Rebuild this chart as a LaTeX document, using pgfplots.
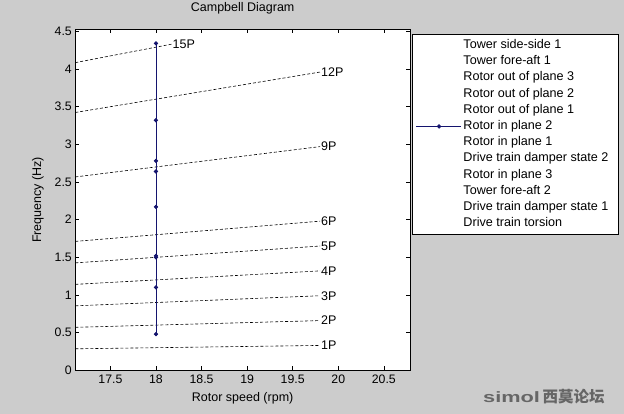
\documentclass[border=0pt]{standalone}
\usepackage{pgfplots}
\pgfplotsset{compat=1.18}
\usepackage{fontspec}
\setmainfont{Liberation Sans}
\newfontfamily\cjk{Noto Sans CJK SC}
\definecolor{figgray}{RGB}{204,204,204}
\definecolor{navyline}{RGB}{20,20,110}
\begin{document}
\begin{tikzpicture}
\fill[figgray, use as bounding box] (0,0) rectangle (624pt,414pt);
\begin{axis}[
  at={(75.3pt,43.7pt)}, anchor=south west,
  scale only axis, width=334.7pt, height=340.8pt,
  xmin=17.115, xmax=20.787, ymin=0, ymax=4.525,
  xtick={17.5,18,18.5,19,19.5,20,20.5},
  ytick={0,0.5,1,1.5,2,2.5,3,3.5,4,4.5},
  tick align=inside, major tick length=4pt,
  axis background/.style={fill=white},
  axis line style={line width=0.7pt},
  tick style={line width=0.6pt, black},
  every tick label/.append style={font=\fontsize{12.3}{14}\selectfont},
  /pgf/number format/assume math mode=true,
  /pgf/number format/fixed,
  xticklabel style={yshift=-1.5pt},
  title={Campbell Diagram},
  title style={at={(axis description cs:0.5,1.0455)}, anchor=center, font=\fontsize{12.5}{14}\selectfont},
  xlabel={Rotor speed (rpm)},
  xlabel style={at={(axis description cs:0.5,-0.0822)}, anchor=center, font=\fontsize{12.5}{14}\selectfont},
  ylabel={Frequency (Hz)},
  ylabel style={at={(axis description cs:-0.1114,0.5)}, anchor=center, font=\fontsize{12.5}{14}\selectfont},
  legend image code/.code={\path (-3pt,0pt) -- (42pt,0pt); \draw[mark repeat=2,mark phase=2,#1] plot coordinates {(0pt,0pt) (20pt,0pt) (40pt,0pt)};},
  legend cell align=left,
  legend style={at={(axis description cs:1.0069,0.9868)}, anchor=north west,
    draw=black, line width=0.7pt, fill=white,
    font=\fontsize{12.6}{14}\selectfont,
    inner xsep=3pt, inner ysep=3pt, row sep=0pt,
    nodes={text height=9.2pt, text depth=3pt, inner ysep=2pt, inner xsep=2pt}},
]
% nP excitation lines
\addplot[forget plot, black, line width=0.6pt, dash pattern=on 3pt off 2pt] coordinates {(17.115,0.28525) (19.8,0.330)};
\addplot[forget plot, black, line width=0.6pt, dash pattern=on 3pt off 2pt] coordinates {(17.115,0.5705) (19.8,0.660)};
\addplot[forget plot, black, line width=0.6pt, dash pattern=on 3pt off 2pt] coordinates {(17.115,0.85575) (19.8,0.990)};
\addplot[forget plot, black, line width=0.6pt, dash pattern=on 3pt off 2pt] coordinates {(17.115,1.1410) (19.8,1.320)};
\addplot[forget plot, black, line width=0.6pt, dash pattern=on 3pt off 2pt] coordinates {(17.115,1.42625) (19.8,1.650)};
\addplot[forget plot, black, line width=0.6pt, dash pattern=on 3pt off 2pt] coordinates {(17.115,1.7115) (19.8,1.980)};
\addplot[forget plot, black, line width=0.6pt, dash pattern=on 3pt off 2pt] coordinates {(17.115,2.56725) (19.8,2.970)};
\addplot[forget plot, black, line width=0.6pt, dash pattern=on 3pt off 2pt] coordinates {(17.115,3.423) (19.8,3.960)};
\addplot[forget plot, black, line width=0.6pt, dash pattern=on 3pt off 2pt] coordinates {(17.115,4.085) (18.17,4.33)};
% mode frequencies at 18 rpm
\addplot[forget plot, navyline, line width=0.8pt, mark=*, mark size=1.7pt] coordinates {
 (18,0.48) (18,1.10) (18,1.50) (18,1.52) (18,2.17) (18,2.64) (18,2.78) (18,3.32) (18,4.34)};
% labels
\begin{scope}[every node/.style={anchor=west, inner sep=1pt, font=\fontsize{12.5}{14}\selectfont}]
\node at (axis cs:19.8,0.330) {1P};
\node at (axis cs:19.8,0.660) {2P};
\node at (axis cs:19.8,0.990) {3P};
\node at (axis cs:19.8,1.320) {4P};
\node at (axis cs:19.8,1.650) {5P};
\node at (axis cs:19.8,1.980) {6P};
\node at (axis cs:19.8,2.970) {9P};
\node at (axis cs:19.8,3.960) {12P};
\node at (axis cs:18.17,4.33) {15P};
\end{scope}
% legend
\addlegendimage{empty legend}\addlegendentry{Tower side-side 1}
\addlegendimage{empty legend}\addlegendentry{Tower fore-aft 1}
\addlegendimage{empty legend}\addlegendentry{Rotor out of plane 3}
\addlegendimage{empty legend}\addlegendentry{Rotor out of plane 2}
\addlegendimage{empty legend}\addlegendentry{Rotor out of plane 1}
\addlegendimage{navyline, line width=0.8pt, mark=*, mark size=1.7pt}\addlegendentry{Rotor in plane 2}
\addlegendimage{empty legend}\addlegendentry{Rotor in plane 1}
\addlegendimage{empty legend}\addlegendentry{Drive train damper state 2\rule{4.5pt}{0pt}}
\addlegendimage{empty legend}\addlegendentry{Rotor in plane 3}
\addlegendimage{empty legend}\addlegendentry{Tower fore-aft 2}
\addlegendimage{empty legend}\addlegendentry{Drive train damper state 1}
\addlegendimage{empty legend}\addlegendentry{Drive train torsion}
\end{axis}
\node[anchor=west, inner sep=0pt, text=black!60] at (483pt,17pt) {\fontsize{15}{16}\selectfont\bfseries\scalebox{1.45}[1]{simol}\,\cjk\fontsize{15.5}{16}\selectfont 西莫论坛};
\end{tikzpicture}
\end{document}
